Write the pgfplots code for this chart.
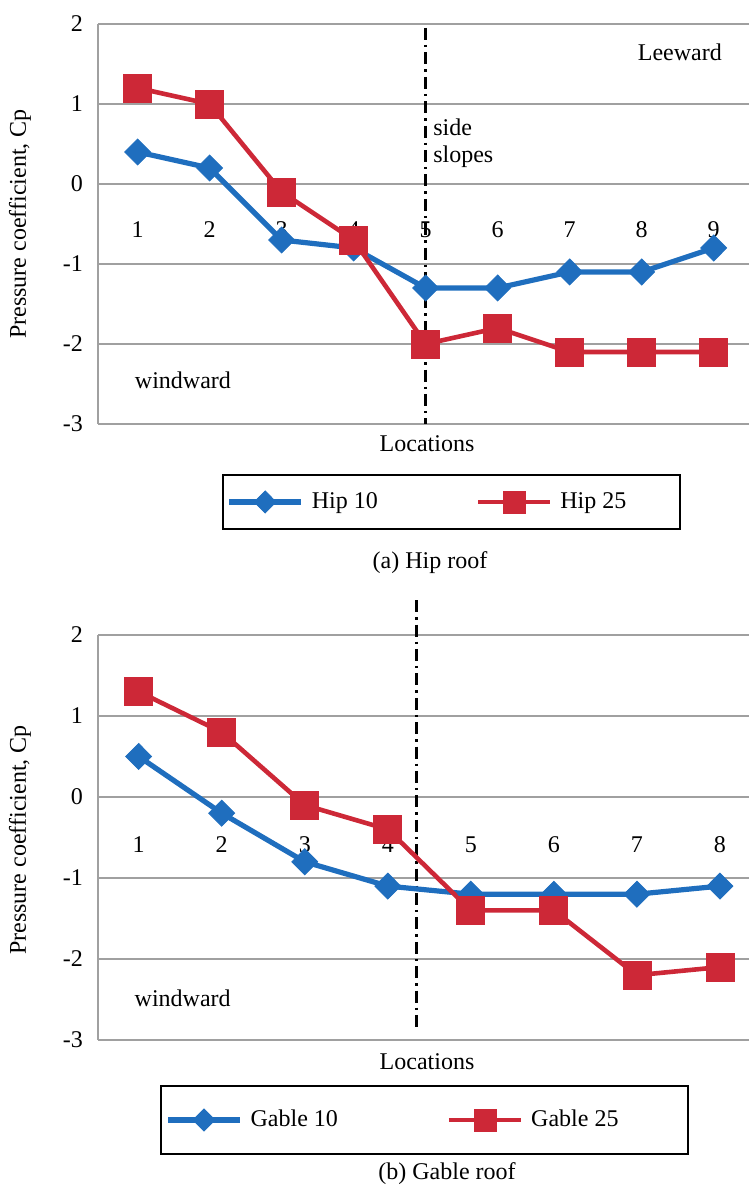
\documentclass[border=0pt]{standalone}
\usepackage{fontspec}
\setmainfont{Liberation Serif}
\usepackage{pgfplots}
\pgfplotsset{compat=1.18}
\definecolor{cblue}{RGB}{31,110,190}
\definecolor{cred}{RGB}{205,40,55}
\definecolor{cgrid}{RGB}{160,160,160}
\pgfplotsset{
  myaxis/.style={
    scale only axis, clip=false,
    width=325.5pt,
    xtick=\empty,
    ymin=-3, ymax=2,
    ytick={-3,-2,-1,0,1,2}, yticklabels={-3,-2,-1,0,1,2},
    ymajorgrids, grid style={cgrid, line width=0.9pt},
    axis x line=none, axis y line*=left,
    y axis line style={cgrid, line width=0.9pt},
    major tick length=0pt,
    tick label style={font=\fontsize{12}{14}\selectfont},
    yticklabel style={xshift=-4pt},
    legend image code/.code={\draw[mark repeat=2,mark phase=2,##1,mark size=5.5pt] plot coordinates {(0pt,0pt) (18pt,0pt) (36pt,0pt)};},
    legend style={draw=black, line width=1pt, anchor=center, font=\fontsize{12}{14}\selectfont, inner xsep=2pt, inner ysep=7pt,
      /tikz/every odd column/.append style={column sep=2pt}},
    legend cell align=left,
    legend columns=2,
  },
  s1/.style={cblue, line width=2.6pt, mark=diamond*, mark size=6.5pt, mark options={solid, line width=0.4pt, xscale=1.33}},
  s2/.style={cred, line width=2.3pt, mark=square*, mark size=7pt, mark options={solid, line width=0.4pt}},
  divider/.style={black, line width=1.5pt, dash pattern=on 6pt off 2.5pt on 1.2pt off 2.5pt, forget plot},
}
\begin{document}
\begin{tikzpicture}[font=\fontsize{12}{14}\selectfont]
\path[use as bounding box] (0,0) rectangle (374.5pt,593.5pt);

% ---------------- (a) Hip roof ----------------
\begin{axis}[myaxis, at={(49pt,381.5pt)}, anchor=south west, height=200pt,
  xmin=0.45, xmax=9.49,
  legend style={at={(0.543,-0.195)}}]
\addplot[divider] coordinates {(5,1.95) (5,-3)};
\addplot[s1] coordinates {(1,0.4) (2,0.2) (3,-0.7) (4,-0.8) (5,-1.3) (6,-1.3) (7,-1.1) (8,-1.1) (9,-0.8)};
\addlegendentry{\makebox[80pt][l]{Hip 10}}
\addplot[s2] coordinates {(1,1.2) (2,1.0) (3,-0.1) (4,-0.7) (5,-2.0) (6,-1.8) (7,-2.1) (8,-2.1) (9,-2.1)};
\addlegendentry{\makebox[56pt][l]{Hip 25}}
\pgfplotsinvokeforeach{1,...,9}{\node at (axis cs:#1,-0.575) {#1};}
\node at (axis cs:8.53,1.64) {Leeward};
\node[anchor=west, inner sep=0pt] at (axis cs:5.1,0.71) {side};
\node[anchor=west, inner sep=0pt] at (axis cs:5.1,0.34) {slopes};
\node at (axis cs:1.63,-2.45) {windward};
\end{axis}
\node at (10pt,481.5pt) [rotate=90] {Pressure coefficient, Cp};
\node at (213.5pt,371.5pt) {Locations};
\node at (215pt,312pt) {(a) Hip roof};

% ---------------- (b) Gable roof ----------------
\begin{axis}[myaxis, at={(49pt,73.5pt)}, anchor=south west, height=202.5pt,
  xmin=0.51, xmax=8.35,
  legend style={at={(0.502,-0.1975)}, inner ysep=10pt}]
\addplot[divider] coordinates {(4.35,2.43) (4.35,-2.88)};
\addplot[s1] coordinates {(1,0.5) (2,-0.2) (3,-0.8) (4,-1.1) (5,-1.2) (6,-1.2) (7,-1.2) (8,-1.1)};
\addlegendentry{\makebox[96pt][l]{Gable 10}}
\addplot[s2] coordinates {(1,1.3) (2,0.8) (3,-0.1) (4,-0.4) (5,-1.4) (6,-1.4) (7,-2.2) (8,-2.1)};
\addlegendentry{\makebox[74.5pt][l]{Gable 25}}
\pgfplotsinvokeforeach{1,...,8}{\node at (axis cs:#1,-0.59) {#1};}
\node at (axis cs:1.53,-2.48) {windward};
\end{axis}
\node at (10pt,173.5pt) [rotate=90] {Pressure coefficient, Cp};
\node at (213.5pt,62.5pt) {Locations};
\node at (223.5pt,6.5pt) {(b) Gable roof};
\end{tikzpicture}
\end{document}
